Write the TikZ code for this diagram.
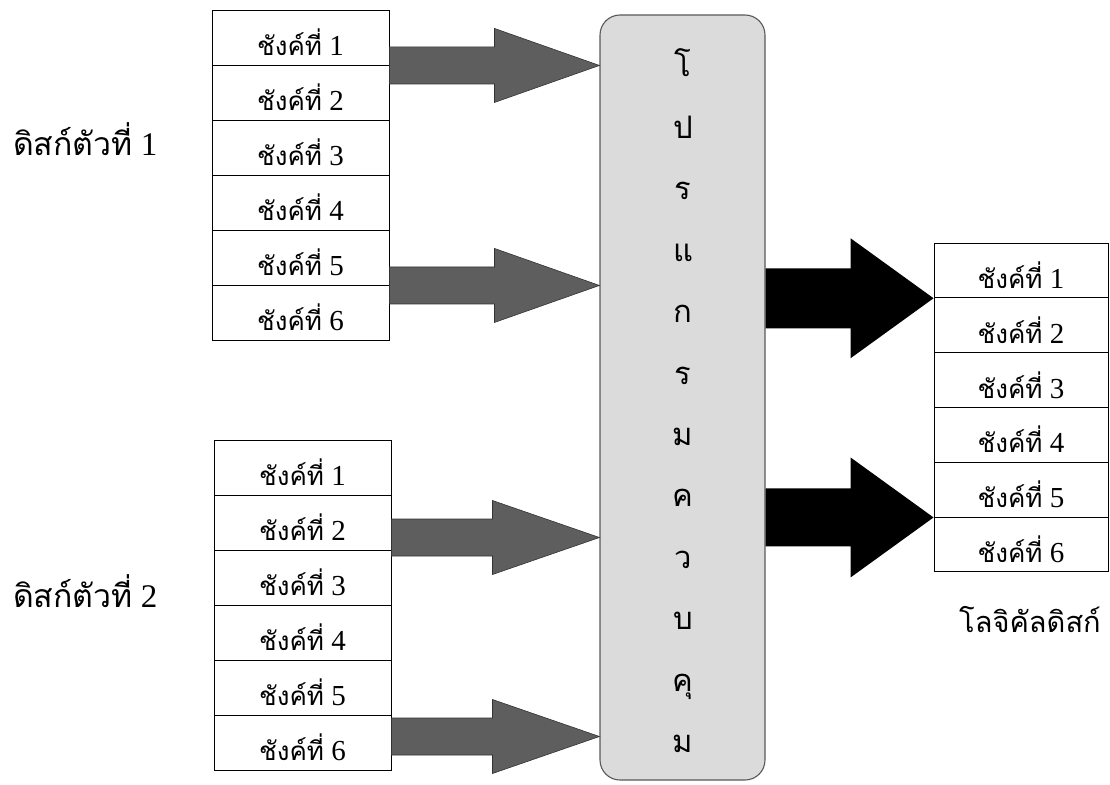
\documentclass[tikz,border=0pt]{standalone}
\usepackage{fontspec}
\setmainfont{Liberation Serif}
\newfontfamily\thaifont[Script=Thai]{Loma}
\usetikzlibrary{calc}

% thick block arrow from a start point to a tip point
% #1 style, #2 start, #3 tip, #4 half shaft, #5 half head, #6 head length
\newcommand{\blockarrow}[6]{%
  \fill[#1] ($(#2)+(0,#4)$) -- ($(#3)+(-#6,#4)$) -- ($(#3)+(-#6,#5)$) -- (#3)
    -- ($(#3)+(-#6,-#5)$) -- ($(#3)+(-#6,-#4)$) -- ($(#2)+(0,-#4)$) -- cycle;}

\tikzset{
  cell/.style={draw=black, line width=0.9pt, fill=white, minimum width=177pt,
    minimum height=55pt, inner sep=0pt, text height=38pt, text depth=2pt,
    font=\fontsize{29}{29}\selectfont},
  disklabel/.style={inner sep=0pt, anchor=base west, font=\fontsize{33}{33}\selectfont},
  prog/.style={draw=black!65, line width=1.1pt, fill=black!14, rounded corners=20pt},
  progchar/.style={inner sep=0pt, anchor=base, font=\thaifont\fontsize{31}{31}\selectfont},
  inarrow/.style={fill=black!63, draw=black!80, line width=0.6pt},
  outarrow/.style={fill=black}
}
\newcommand{\chunk}[1]{{\thaifont\fontsize{26}{26}\selectfont ชังค์ที่}\ #1}
\newcommand{\disktext}[1]{{\thaifont\fontsize{32}{32}\selectfont #1}}

\begin{document}
\begin{tikzpicture}[x=1pt, y=-1pt]
  \useasboundingbox (0,0) rectangle (1110,784);

  % program box
  \node[prog, minimum width=165pt, minimum height=765pt] (prog) at (682.5,397.5) {};
  \foreach \ch [count=\i from 0] in {โ,ป,ร,แ,ก,ร,ม,ค,ว,บ,คุ,ม}
    \node[progchar] (pc\i) at (683, 77+61.4*\i) {\ch};

  % disk 1
  \foreach \i in {1,...,6}
    \node[cell] (a\i) at (300.5, 37.5+55*\i-55) {\chunk{\i}};
  % disk 2
  \foreach \i in {1,...,6}
    \node[cell] (b\i) at (302.5, 467.5+55*\i-55) {\chunk{\i}};
  % logical disk
  \foreach \i in {1,...,6}
    \node[cell, minimum width=174pt, minimum height=54.8pt] (c\i) at (1021, 270.4+54.8*\i-54.8) {\chunk{\i}};

  % labels
  \node[disklabel] (l1) at (13,155) {\disktext{ดิสก์ตัวที่}\ 1};
  \node[disklabel] (l2) at (13,607) {\disktext{ดิสก์ตัวที่}\ 2};
  \node[inner sep=0pt, anchor=base] (l3) at (1030,632)
    {\thaifont\fontsize{29}{29}\selectfont โลจิคัลดิสก์};

  % arrow end points
  \coordinate (s1) at (a1.south east);
  \coordinate (s2) at (a5.south east);
  \coordinate (s3) at ($(b2.east)+(0,15)$);
  \coordinate (s4) at ($(b6.east)+(0,-6)$);
  \coordinate (t1) at (prog.west |- s1);
  \coordinate (t2) at (prog.west |- s2);
  \coordinate (t3) at (prog.west |- s3);
  \coordinate (t4) at (prog.west |- s4);
  \coordinate (u1) at (c1.south west);
  \coordinate (u2) at (c5.south west);
  \coordinate (v1) at (prog.east |- u1);
  \coordinate (v2) at (prog.east |- u2);

  % input arrows
  \blockarrow{inarrow}{s1}{t1}{18.5}{37}{105}
  \blockarrow{inarrow}{s2}{t2}{18.5}{37}{105}
  \blockarrow{inarrow}{s3}{t3}{18.5}{37}{107}
  \blockarrow{inarrow}{s4}{t4}{18.5}{37}{107}
  % output arrows
  \blockarrow{outarrow}{v1}{u1}{30}{60}{83}
  \blockarrow{outarrow}{v2}{u2}{29}{60}{83}
\end{tikzpicture}
\end{document}
